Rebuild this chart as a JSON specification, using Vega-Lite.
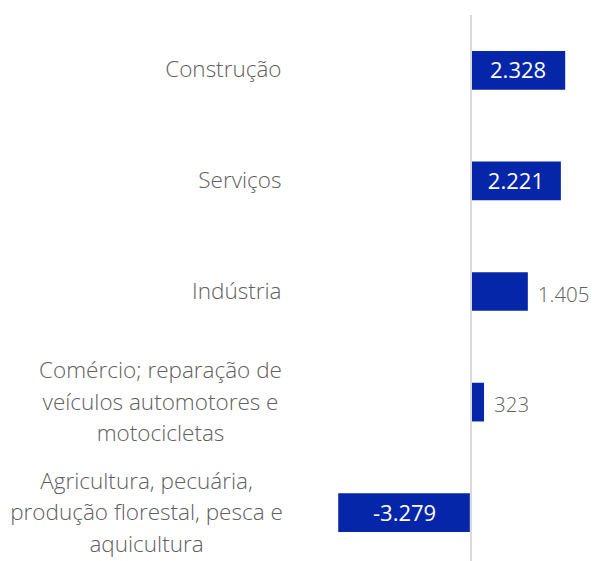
{
  "$schema": "https://vega.github.io/schema/vega-lite/v6.json",
  "autosize": "none",
  "width": 302,
  "height": 553,
  "padding": {"left": 290, "top": 15, "right": 0, "bottom": 0},
  "background": "white",
  "config": {
    "view": {"stroke": null},
    "font": "Open Sans",
    "locale": {"number": {"decimal": ",", "thousands": ".", "grouping": [3], "currency": ["", ""], "minus": "-"}}
  },
  "data": {
    "values": [
      {"setor": "Construção", "valor": 2328},
      {"setor": "Serviços", "valor": 2221},
      {"setor": "Indústria", "valor": 1405},
      {"setor": "Comércio; reparação de|veículos automotores e|motocicletas", "valor": 323},
      {"setor": "Agricultura, pecuária,|produção florestal, pesca e|aquicultura", "valor": -3279}
    ]
  },
  "encoding": {
    "y": {
      "field": "setor",
      "type": "nominal",
      "sort": null,
      "scale": {"paddingInner": 0.65, "paddingOuter": 0.325},
      "axis": {
        "title": null,
        "domain": false,
        "ticks": false,
        "labelExpr": "split(datum.label, '|')",
        "labelFontSize": 22.5,
        "labelColor": "#606060",
        "labelAlign": {"condition": {"test": "indexof(datum.value, '|') >= 0", "value": "center"}, "value": "right"},
        "labelPadding": {"condition": [
          {"test": "indexof(datum.value, 'Comércio') >= 0", "value": 130},
          {"test": "indexof(datum.value, 'Agricultura') >= 0", "value": 144}
        ], "value": 9},
        "labelOffset": {"condition": {"test": "indexof(datum.value, '|') >= 0", "value": -31}, "value": 0},
        "labelLineHeight": 31.5,
        "labelLimit": 400,
        "labelFont": "Open Sans",
        "labelFontWeight": 300
      }
    }
  },
  "layer": [
    {
      "mark": {"type": "bar", "color": "#0526A8"},
      "encoding": {
        "x": {"field": "valor", "type": "quantitative", "scale": {"domain": [-4470, 2990], "nice": false, "zero": false}, "axis": null}
      }
    },
    {
      "mark": {"type": "rule", "color": "#d9d9d9", "strokeWidth": 2},
      "encoding": {"x": {"datum": 0, "type": "quantitative"}, "y": {"value": 0}, "y2": {"value": 553}}
    },
    {
      "transform": [{"filter": "abs(datum.valor) > 2000"}, {"calculate": "datum.valor / 2", "as": "meio"}],
      "mark": {"type": "text", "color": "white", "fontSize": 22, "align": "center", "baseline": "middle", "dy": 1, "font": "Open Sans"},
      "encoding": {
        "x": {"field": "meio", "type": "quantitative"},
        "text": {"field": "valor", "type": "quantitative", "format": ",d"}
      }
    },
    {
      "transform": [{"filter": "abs(datum.valor) <= 2000"}],
      "mark": {"type": "text", "color": "#606060", "fontSize": 20.5, "align": "left", "baseline": "middle", "dx": 10, "dy": 4, "font": "Open Sans", "fontWeight": 300},
      "encoding": {
        "x": {"field": "valor", "type": "quantitative"},
        "text": {"field": "valor", "type": "quantitative", "format": ",d"}
      }
    }
  ]
}
